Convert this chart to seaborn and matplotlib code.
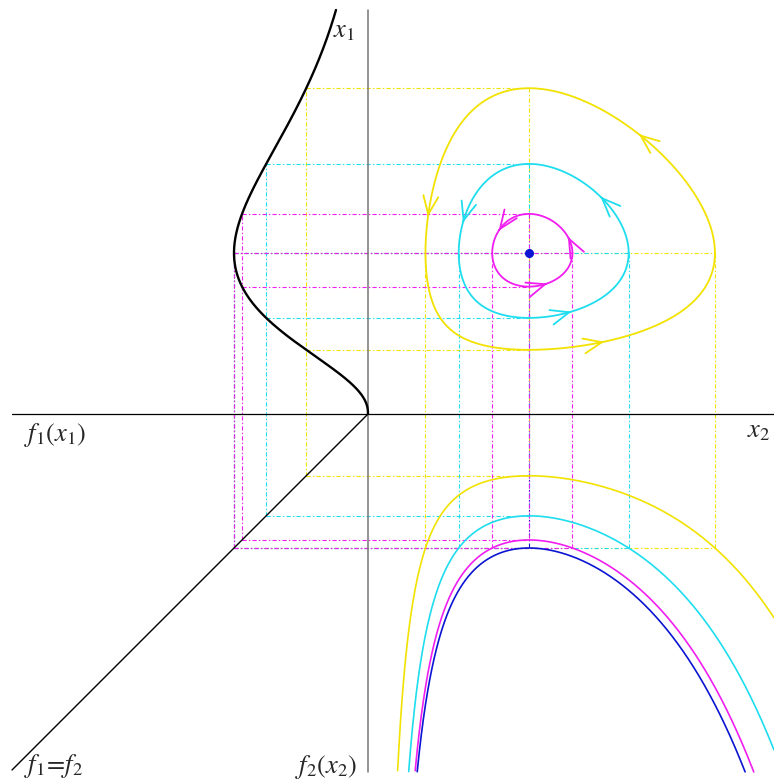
import numpy as np
import matplotlib
matplotlib.use("Agg")
import matplotlib.pyplot as plt
import seaborn as sns

sns.set_theme(style="white")
plt.rcParams["mathtext.fontset"] = "stix"
plt.rcParams["lines.scale_dashes"] = False

# --- model data (units = pixels of the construction) ---
eq_x1 = 161.0          # equilibrium value of x1
eq_x2 = 161.0          # equilibrium value of x2
f_peak = 134.0         # maximum of f1 (drawn leftwards) = depth of f2 envelope
exp_a = 2.43           # shape exponent of f1(x1)
exp_b = 2.0            # shape exponent of f2(x2)
levels = [0.461, 0.76, 0.94]                  # orbit levels f1*f2 = K
level_colors = ["#F2E200", "#1EDDEE", "#F01EF0"]
eq_color = "#0A14D2"
# arrow anchors on each orbit (x2, x1) and their colours
arrow_pts = [(272, 279), (60, 199), (235, 71),
             (237, 219), (94, 194), (202, 101),
             (202, 176), (130, 186), (177, 131)]
arrow_level = [0, 0, 0, 1, 1, 1, 2, 2, 2]


def F(u):
    r = u / eq_x1
    return exp_a * (np.log(r) + 1 - r)


def G(v):
    r = v / eq_x2
    return exp_b * (np.log(r) + 1 - r)


def roots(fun, c, lnK):
    # two roots of fun(c*r)=lnK, one below and one above c
    out = []
    for lo, hi in ((1e-6, 1.0), (1.0, 20.0)):
        a, b = lo, hi
        for _ in range(80):
            m = 0.5 * (a + b)
            fm = fun(c * m) - lnK
            fa = fun(c * a) - lnK
            if np.sign(fm) == np.sign(fa):
                a = m
            else:
                b = m
        out.append(c * 0.5 * (a + b))
    return out


def orbit(K, n=720):
    lnK = np.log(K)
    th = np.linspace(0, 2 * np.pi, n)
    cx, cy = np.cos(th), np.sin(th)
    rmax = np.full(n, 2000.0)
    rmax = np.where(cx < 0, np.minimum(rmax, eq_x2 / np.maximum(-cx, 1e-9) * 0.999999), rmax)
    rmax = np.where(cy < 0, np.minimum(rmax, eq_x1 / np.maximum(-cy, 1e-9) * 0.999999), rmax)
    lo, hi = np.zeros(n), rmax
    for _ in range(80):
        m = 0.5 * (lo + hi)
        val = G(eq_x2 + m * cx) + F(eq_x1 + m * cy) - lnK
        lo = np.where(val > 0, m, lo)
        hi = np.where(val > 0, hi, m)
    r = 0.5 * (lo + hi)
    return eq_x2 + r * cx, eq_x1 + r * cy


fig = plt.figure(figsize=(7.74, 7.82), dpi=100)
ax = fig.add_axes([0, 0, 1, 1])
ax.set_xlim(-368, 406)
ax.set_ylim(-368, 414)
ax.axis("off")

dash = (0, (3, 1.6, 1, 1.6))
dlw = 0.8


def dl(xs, ys, c, z=2):
    ax.plot(xs, ys, color=c, lw=dlw, ls=dash, zorder=z)


# equilibrium rectangle (underneath the coloured construction lines)
dl([-f_peak, eq_x2], [eq_x1, eq_x1], eq_color, 1)
dl([eq_x2, eq_x2], [eq_x1, -f_peak], eq_color, 1)
dl([-f_peak, eq_x2], [-f_peak, -f_peak], eq_color, 1)
dl([-f_peak, -f_peak], [-f_peak, eq_x1], eq_color, 1)

# construction lines for each orbit
for K, c in zip(levels, level_colors):
    d = f_peak * K
    lnK = np.log(K)
    u_bot, u_top = roots(F, eq_x1, lnK)
    v_l, v_r = roots(G, eq_x2, lnK)
    dl([-d, -d], [-d, u_top], c)
    dl([-d, eq_x2], [-d, -d], c)
    dl([-d, eq_x2], [u_top, u_top], c)
    dl([-d, eq_x2], [u_bot, u_bot], c)
    dl([eq_x2, eq_x2], [u_top, -d], c)
    dl([-f_peak, v_r], [eq_x1, eq_x1], c)
    dl([-f_peak, v_r], [-f_peak, -f_peak], c)
    dl([-f_peak, -f_peak], [-f_peak, eq_x1], c)
    dl([v_l, v_l], [-f_peak, eq_x1], c)
    dl([v_r, v_r], [-f_peak, eq_x1], c)

# axes of the construction
ax.plot([-356, 406], [0, 0], color="black", lw=0.9, zorder=3)
ax.plot([0, 0], [404, -358], color="#777777", lw=1.1, zorder=3)
ax.plot([0, -356], [0, -356], color="black", lw=1.0, zorder=3)

# f1(x1), drawn leftwards
u = np.linspace(0.01, 404, 600)
sns.lineplot(x=-f_peak * np.exp(F(u)), y=u, sort=False, estimator=None,
             color="black", lw=1.7, ax=ax, zorder=4)

# lower-right curves: depth = f_peak*K / f2(x2)
v = np.linspace(1, 406, 3000)
for K, c in list(zip(levels, level_colors)) + [(1.0, eq_color)]:
    depth = f_peak * K / np.exp(G(v))
    m = depth <= 358
    sns.lineplot(x=v[m], y=-depth[m], sort=False, estimator=None,
                 color=c, lw=1.2, ax=ax, zorder=4)

# orbits in the phase plane
orbits = []
for K, c in zip(levels, level_colors):
    ox, oy = orbit(K)
    orbits.append((ox, oy))
    sns.lineplot(x=ox, y=oy, sort=False, estimator=None,
                 color=c, lw=1.3, ax=ax, zorder=4)

# direction arrows (counter-clockwise motion)
for (px, py), k in zip(arrow_pts, arrow_level):
    ox, oy = orbits[k]
    i = int(np.argmin((ox - px) ** 2 + (oy - py) ** 2))
    j = (i + 4) % len(ox)
    h = (i - 4) % len(ox)
    tx, ty = ox[j] - ox[h], oy[j] - oy[h]
    nrm = np.hypot(tx, ty)
    tx, ty = tx / nrm, ty / nrm
    ax.annotate("", xy=(ox[i] + 2 * tx, oy[i] + 2 * ty),
                xytext=(ox[i] - 2 * tx, oy[i] - 2 * ty),
                arrowprops=dict(arrowstyle="->,head_length=1.1,head_width=0.45",
                                color=level_colors[k], lw=1.3),
                zorder=5)

ax.plot([eq_x2], [eq_x1], "o", color=eq_color, ms=5.5, zorder=6)

# labels
fs = 19
ax.text(-35, 384, r"$x_{\mathit{1}}$", fontsize=fs, ha="left", va="center")
ax.text(379, -16, r"$x_{\mathit{2}}$", fontsize=fs, ha="left", va="center")
ax.text(-344, -21, r"$f_{\mathit{1}}(x_{\mathit{1}})$", fontsize=fs, ha="left", va="center")
ax.text(-344, -352, r"$f_{\mathit{1}}\!=\!f_{\mathit{2}}$", fontsize=fs, ha="left", va="center")
ax.text(-73, -353, r"$f_{\mathit{2}}(x_{\mathit{2}})$", fontsize=fs, ha="left", va="center")

fig.savefig("out.png", dpi=100)
